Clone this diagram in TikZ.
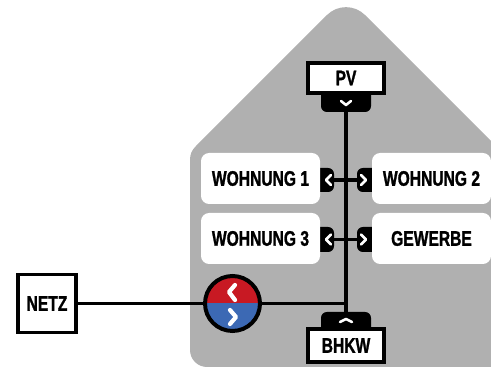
\documentclass[tikz,border=0pt]{standalone}
\usepackage{xcolor}
\usepackage{fontspec}
\setmainfont{Liberation Sans}
\newfontfamily\labelfont[FakeStretch=0.74,FakeBold=1.2]{Liberation Sans Bold}
\definecolor{housegray}{RGB}{176, 176, 176}
\definecolor{importred}{RGB}{200, 25, 35}
\definecolor{exportblue}{RGB}{60, 105, 180}

\begin{document}
\begin{tikzpicture}[
        x=0.03cm, y=-0.03cm,
        every node/.style={font=\labelfont\fontsize{18}{19}\selectfont, inner sep=0pt},
        flatbox/.style={rectangle, draw=black, line width=3.4pt, fill=white, text centered},
        roombox/.style={rectangle, rounded corners=7pt, fill=white, minimum width=119*0.03cm, minimum height=51*0.03cm, text centered},
        tabnode/.style={rectangle, rounded corners=5pt, fill=black},
        chevron/.style={draw=white, line width=2.2pt, line cap=round, line join=round},
        wire/.style={draw=black, line width=3.4pt},
    ]

        % Frame
        \useasboundingbox (0,0) rectangle (491,367);

        % House
        \fill[housegray] (207,367) to[out=180, in=-90] (190,350) -- (190,160)
            to[out=90, in=-135] (196,146) -- (327,15) to[out=45, in=135] (365,15) -- (491,141) -- (491,367) -- cycle;

        % Tabs
        \node[tabnode, minimum width=50*0.03cm, minimum height=28*0.03cm] at (346,98) (pvtab) {};
        \node[tabnode, minimum width=50*0.03cm, minimum height=28*0.03cm] at (346,326) (bhkwtab) {};
        \node[tabnode, minimum width=28*0.03cm, minimum height=24*0.03cm] at (320,180) (tableft1) {};
        \node[tabnode, minimum width=28*0.03cm, minimum height=24*0.03cm] at (371,180) (tabright1) {};
        \node[tabnode, minimum width=28*0.03cm, minimum height=25*0.03cm] at (320,239.5) (tableft2) {};
        \node[tabnode, minimum width=28*0.03cm, minimum height=25*0.03cm] at (371,239.5) (tabright2) {};

        % Wires
        \coordinate (junction) at (346,303.5);
        \draw[wire] (pvtab) -- (bhkwtab);
        \draw[wire] (tableft1) -- (tabright1);
        \draw[wire] (tableft2) -- (tabright2);

        % Rooms
        \node[roombox] at (260.5,178.5) (room1) {WOHNUNG 1};
        \node[roombox] at (431.5,178.5) (room2) {WOHNUNG 2};
        \node[roombox] at (260.5,238.5) (room3) {WOHNUNG 3};
        \node[roombox] at (431.5,238.5) (shop) {GEWERBE};

        % Sources
        \node[flatbox, minimum width=76*0.03cm, minimum height=30*0.03cm] at (346,78) (pv) {PV};
        \node[flatbox, minimum width=76*0.03cm, minimum height=33*0.03cm] at (346,345.5) (bhkw) {BHKW};
        \node[flatbox, minimum width=58*0.03cm, minimum height=58*0.03cm] at (47,303.5) (netz) {NETZ};

        % Meter
        \node[circle, draw=black, line width=3.4pt, minimum size=55*0.03cm, path picture={
            \fill[importred] (path picture bounding box.north west) rectangle (path picture bounding box.east);
            \fill[exportblue] (path picture bounding box.west) rectangle (path picture bounding box.south east);
        }] at (232.5,303.5) (meter) {};
        \draw[wire] (netz) -- (meter);
        \draw[wire] (meter) -- (junction);

        % Chevrons
        \draw[chevron, line width=3.6pt] ([shift={(2.5,-18.5)}]meter.center) -- ([shift={(-3.5,-11.5)}]meter.center) -- ([shift={(2.5,-3.5)}]meter.center);
        \draw[chevron, line width=3.6pt] ([shift={(-2.5,6.5)}]meter.center) -- ([shift={(3.5,13.5)}]meter.center) -- ([shift={(-2.5,20.5)}]meter.center);
        \draw[chevron] ([shift={(-5,3)}]pvtab.center) -- ([shift={(0,7)}]pvtab.center) -- ([shift={(5,3)}]pvtab.center);
        \draw[chevron] ([shift={(-6,-4)}]bhkwtab.center) -- ([shift={(0,-7)}]bhkwtab.center) -- ([shift={(6,-4)}]bhkwtab.center);
        \foreach \tab in {tableft1,tableft2}
            \draw[chevron] ([shift={(11,-5)}]\tab.center) -- ([shift={(6,0)}]\tab.center) -- ([shift={(11,5)}]\tab.center);
        \foreach \tab in {tabright1,tabright2}
            \draw[chevron] ([shift={(-10,-5)}]\tab.center) -- ([shift={(-5,0)}]\tab.center) -- ([shift={(-10,5)}]\tab.center);
    \end{tikzpicture}
\end{document}
